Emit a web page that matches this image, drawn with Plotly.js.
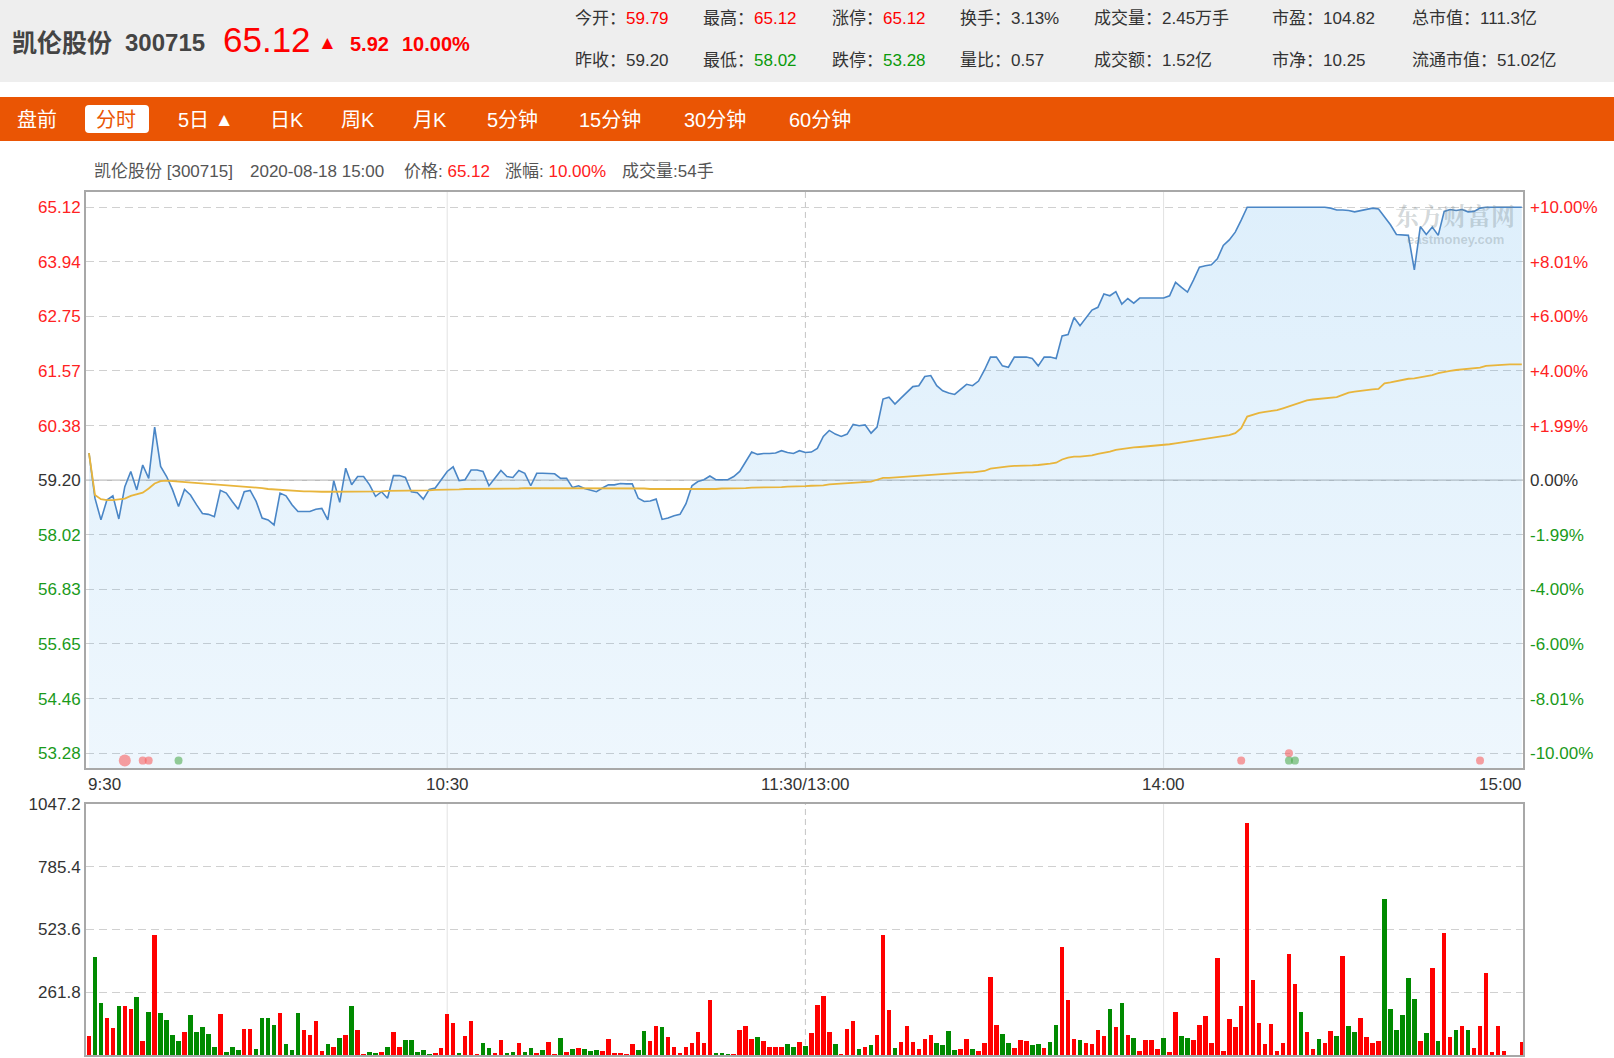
<!DOCTYPE html>
<html><head><meta charset="utf-8">
<script src="https://cdn.plot.ly/plotly-3.0.1.min.js"></script>
<style>
*{box-sizing:border-box}
html,body{margin:0;padding:0;background:#fff;width:1614px;height:1058px;overflow:hidden;font-family:Arial,"Liberation Sans","Noto Sans CJK SC",sans-serif;}
#chart{position:absolute;left:0;top:0;width:1614px;height:1058px;}
.abs{position:absolute;white-space:nowrap}
#hdr{position:absolute;left:0;top:0;width:1614px;height:82px;background:#eeeeee;}
#bar{position:absolute;left:0;top:97px;width:1614px;height:44px;background:#ea5504;}
</style></head><body>
<div id="chart"></div>
<div id="hdr"></div>
<div id="bar"></div>
<div id="info"></div>
<script>
// ---------------- data ----------------
const stockName = '凯伦股份';
const stockCode = '300715';
const lastPrice = '65.12';
const change = '5.92';
const changePct = '10.00%';
const prevClose = 59.20;

const statLabels = [['今开','最高','涨停','换手','成交量','市盈','总市值'],
                    ['昨收','最低','跌停','量比','成交额','市净','流通市值']];
const statValues = [['59.79','65.12','65.12','3.13%','2.45万手','104.82','111.3亿'],
                    ['59.20','58.02','53.28','0.57','1.52亿','10.25','51.02亿']];
const statDir = [['u','u','u','','','',''],['','d','d','','','','']];

const tabs = ['盘前','分时','5日 ▲','日K','周K','月K','5分钟','15分钟','30分钟','60分钟'];
const activeTab = '分时';

const infoDate = '2020-08-18 15:00';
const infoVolume = '54手';

const timeTickPos = [0, 60, 120, 180, 240];
const timeTickLabels = ['9:30','10:30','11:30/13:00','14:00','15:00'];

const priceTicks = [65.12, 63.94, 62.75, 61.57, 60.38, 59.20, 58.02, 56.83, 55.65, 54.46, 53.28];
const pctTicks = ['+10.00%','+8.01%','+6.00%','+4.00%','+1.99%','0.00%','-1.99%','-4.00%','-6.00%','-8.01%','-10.00%'];
const volTicks = [0, 261.8, 523.6, 785.4, 1047.2];
const volTickLabels = ['0','261.8','523.6','785.4','1047.2'];

const price = [
59.79,58.81,58.34,58.77,58.86,58.36,59.06,59.39,58.99,59.53,
59.24,60.35,59.50,59.28,58.99,58.63,59.00,58.88,58.67,58.48,
58.46,58.41,58.98,58.92,58.74,58.57,58.95,58.98,58.74,58.38,
58.34,58.23,58.92,58.86,58.67,58.52,58.52,58.52,58.57,58.59,
58.34,59.19,58.72,59.46,59.10,59.28,59.28,59.10,58.85,58.95,
58.81,59.30,59.30,59.26,58.95,58.93,58.79,59.00,59.03,59.22,
59.39,59.49,59.19,59.21,59.42,59.42,59.39,59.08,59.24,59.41,
59.28,59.26,59.41,59.35,59.08,59.35,59.35,59.34,59.34,59.24,
59.24,59.04,59.08,59.02,58.99,58.95,59.03,59.10,59.10,59.13,
59.12,59.12,58.81,58.74,58.75,58.79,58.35,58.38,58.43,58.46,
58.69,59.08,59.17,59.21,59.29,59.21,59.21,59.21,59.28,59.39,
59.60,59.81,59.76,59.78,59.78,59.79,59.84,59.80,59.78,59.84,
59.80,59.81,59.89,60.15,60.28,60.20,60.15,60.20,60.41,60.38,
60.40,60.22,60.35,60.96,61.00,60.85,60.98,61.10,61.23,61.25,
61.45,61.47,61.25,61.14,61.09,61.06,61.17,61.28,61.25,61.35,
61.59,61.87,61.87,61.68,61.65,61.87,61.87,61.87,61.84,61.68,
61.87,61.87,61.84,62.33,62.36,62.73,62.55,62.71,62.89,62.95,
63.24,63.20,63.29,63.02,63.14,63.04,63.15,63.15,63.15,63.15,
63.15,63.20,63.49,63.38,63.28,63.54,63.82,63.85,63.87,64.00,
64.29,64.41,64.58,64.84,65.12,65.12,65.12,65.12,65.12,65.12,
65.12,65.12,65.12,65.12,65.12,65.12,65.12,65.12,65.10,65.06,
65.06,65.05,65.02,65.05,65.08,65.10,65.08,64.92,64.74,64.53,
64.52,64.51,63.76,64.70,64.53,64.69,64.51,65.03,65.07,65.05,
65.07,65.02,65.03,65.10,65.12,65.12,65.12,65.12,65.12,65.12,
65.12];

const avgPrice = [
59.79,58.88,58.79,58.77,58.77,58.78,58.80,58.86,58.89,58.93,
59.02,59.13,59.18,59.19,59.18,59.17,59.17,59.16,59.15,59.14,
59.13,59.12,59.11,59.10,59.09,59.08,59.07,59.06,59.04,59.03,
59.01,59.00,58.99,58.98,58.97,58.97,58.96,58.96,58.95,58.95,
58.95,58.95,58.95,58.95,58.95,58.95,58.96,58.96,58.96,58.96,
58.97,58.97,58.97,58.97,58.98,58.98,58.98,58.98,58.99,58.99,
59.00,59.00,59.00,59.01,59.01,59.01,59.01,59.02,59.02,59.02,
59.02,59.02,59.02,59.03,59.03,59.03,59.03,59.03,59.03,59.03,
59.03,59.03,59.03,59.03,59.03,59.03,59.03,59.03,59.03,59.03,
59.03,59.02,59.02,59.02,59.01,59.01,59.01,59.00,59.00,59.00,
59.00,59.00,59.01,59.01,59.01,59.01,59.02,59.02,59.02,59.03,
59.03,59.04,59.04,59.04,59.05,59.05,59.05,59.06,59.06,59.07,
59.07,59.08,59.08,59.09,59.11,59.12,59.13,59.13,59.14,59.15,
59.16,59.17,59.21,59.25,59.25,59.26,59.27,59.28,59.29,59.30,
59.31,59.32,59.33,59.33,59.34,59.35,59.36,59.37,59.37,59.38,
59.40,59.45,59.47,59.48,59.50,59.51,59.51,59.52,59.52,59.53,
59.54,59.56,59.58,59.65,59.69,59.71,59.71,59.72,59.74,59.77,
59.79,59.82,59.86,59.88,59.90,59.91,59.92,59.93,59.95,59.96,
59.97,59.98,60.00,60.02,60.04,60.06,60.08,60.10,60.12,60.14,
60.16,60.18,60.22,60.33,60.58,60.62,60.66,60.68,60.70,60.72,
60.76,60.80,60.85,60.89,60.93,60.95,60.96,60.97,60.99,61.00,
61.05,61.10,61.12,61.14,61.15,61.17,61.18,61.30,61.32,61.35,
61.37,61.40,61.41,61.43,61.46,61.48,61.52,61.55,61.57,61.59,
61.60,61.61,61.62,61.64,61.68,61.69,61.70,61.70,61.71,61.71,
61.71];

const volume = [
81,410,219,154,113,205,205,194,243,57,
181,502,174,146,85,59,95,166,95,117,
89,35,170,14,33,21,109,109,24,153,
156,125,174,47,21,174,103,83,142,17,
45,33,71,82,205,103,3,14,7,11,
35,96,35,64,64,14,21,3,7,28,
170,134,7,81,140,3,52,28,7,64,
7,14,50,14,28,7,21,54,3,71,
11,24,28,24,16,21,16,66,7,7,
3,45,21,100,57,120,117,75,33,7,
35,52,96,52,231,7,7,3,3,103,
120,66,74,59,33,35,35,47,35,54,
38,92,209,245,96,47,3,109,142,25,
33,40,85,500,187,28,54,120,55,24,
66,83,51,41,99,21,24,66,27,18,
50,324,125,89,50,28,64,57,41,47,
31,54,125,449,231,66,61,52,47,103,
81,191,117,219,83,71,18,61,64,24,
71,11,180,78,69,64,127,163,50,403,
17,149,116,205,969,314,132,47,130,17,
50,422,297,180,98,27,68,50,102,81,
413,120,96,154,75,50,57,651,194,103,
168,321,233,57,92,364,59,509,75,106,
123,103,31,123,344,14,123,18,2,2,
54];

// u = up minute (red bar), d = down minute (green bar)
const volDir = [
'u','d','d','u','u','d','u','u','d','u',
'd','u','d','d','d','d','u','d','d','d',
'd','d','u','d','d','d','u','u','d','d',
'd','d','u','d','d','d','u','u','u','u',
'd','u','d','u','d','u','u','d','d','u',
'd','u','u','d','d','d','d','d','u','u',
'u','u','d','u','u','u','d','d','u','u',
'd','d','u','d','d','u','d','u','u','d',
'u','d','u','d','d','d','u','u','u','u',
'u','u','d','d','u','u','d','u','u','u',
'u','u','u','u','u','d','d','d','u','u',
'u','u','d','u','u','u','u','d','d','u',
'd','u','u','u','u','d','u','u','u','d',
'u','d','u','u','u','d','u','u','u','u',
'u','u','d','d','d','d','u','u','d','u',
'u','u','u','d','d','u','u','u','d','d',
'u','d','d','u','u','u','d','u','u','u',
'u','d','u','d','u','d','u','u','u','u',
'd','u','u','d','d','u','u','u','u','u',
'u','u','u','u','u','u','u','u','u','u',
'u','u','u','d','u','u','d','u','u','d',
'u','d','d','u','u','u','u','d','d','d',
'd','d','d','u','d','u','d','u','u','d',
'u','d','u','u','u','u','u','u','u','u',
'u'];

// big-order markers along the bottom of the price panel
const dotMinute = [6, 9, 10, 15, 193, 201, 201, 202, 233];
const dotPrice  = [53.12, 53.12, 53.12, 53.12, 53.12, 53.28, 53.12, 53.12, 53.12];
const dotSide   = ['b','b','b','s','b','b','s','s','b'];
const dotLarge  = [1,0,0,0,0,0,0,0,0];

// ---------------- header (HTML) ----------------
const RED = '#ff0000', GREEN = '#0a9a0a';
function el(parent, txt, css){ const d=document.createElement('div'); d.className='abs'; d.innerHTML=txt; Object.assign(d.style, css); parent.appendChild(d); return d; }
const hdr = document.getElementById('hdr');
function line(parent, txt, left, cy, size, color, weight){
  const h = Math.round(size*1.4);
  return el(parent, txt, {left:left+'px', top:(cy-h/2)+'px', height:h+'px', lineHeight:h+'px', fontSize:size+'px', color:color, fontWeight:weight||'normal'});
}
line(hdr, stockName, 12, 43, 25, '#444', 'bold');
line(hdr, stockCode, 125, 43, 24, '#444', 'bold');
line(hdr, lastPrice, 223, 39, 35, RED);
line(hdr, '▲', 318, 42, 19, RED);
line(hdr, change, 350, 44, 20, RED, 'bold');
line(hdr, changePct, 402, 44, 20, RED, 'bold');
const statX = [575, 703, 832, 960, 1094, 1272, 1412];
const statY = [19, 61];
for (let r=0;r<2;r++) for (let c=0;c<7;c++){
  const col = statDir[r][c]==='u'?RED:(statDir[r][c]==='d'?GREEN:'#333');
  line(hdr, statLabels[r][c]+'：<span style="color:'+col+'">'+statValues[r][c]+'</span>', statX[c], statY[r], 17, '#333');
}
const bar = document.getElementById('bar');
const tabX = [17, 96, 178, 270, 341, 413, 487, 579, 684, 789];
tabs.forEach((t,i)=>{
  if (t===activeTab){
    el(bar, '', {left:'85px', top:'8px', width:'64px', height:'28px', background:'#fff', borderRadius:'4px'});
    line(bar, t, tabX[i], 23, 20, '#ea5504');
  } else {
    line(bar, t.replace('▲','<span style="font-size:19px;position:relative;top:-1px">▲</span>'), tabX[i], 23, 20, '#fff');
  }
});
const info = document.getElementById('info');
const infoParts = [
  [stockName+' ['+stockCode+']', 94],
  [infoDate, 250],
  ['价格: <span style="color:#ff2020">'+lastPrice+'</span>', 404],
  ['涨幅: <span style="color:#ff2020">'+changePct+'</span>', 505],
  ['成交量:'+infoVolume, 622]
];
infoParts.forEach(p=>line(info, p[0], p[1], 172, 17, '#555'));

// ---------------- chart (Plotly) ----------------
const minute = price.map((_, i) => i);
const xRange = [-0.5, 240.2];
const pRange = [52.96, 65.45];
const FONT = 'Arial, "Liberation Sans", sans-serif';
const AXRED = '#f22', AXGREEN = '#1a9a1a', AXGRAY = '#333';
function tickColor(v){ return v>prevClose+1e-9?AXRED:(v<prevClose-1e-9?AXGREEN:AXGRAY); }
const leftText = priceTicks.map(v=>'<span style="color:'+tickColor(v)+'">'+v.toFixed(2)+'</span>');
const rightText = priceTicks.map((v,i)=>'<span style="color:'+tickColor(v)+'">'+pctTicks[i]+'</span>');

const traces = [
  { x:minute, y:price, type:'scatter', mode:'lines', xaxis:'x', yaxis:'y',
    line:{color:'#4a86c6', width:1.6}, fill:'tozeroy',
    fillcolor:'rgba(70,160,230,0.14)',
    fillgradient:{type:'vertical', start:pRange[0], stop:pRange[1],
      colorscale:[[0,'rgba(70,165,235,0.09)'],[1,'rgba(70,165,235,0.18)']]},
    hoverinfo:'skip' },
  { x:minute, y:avgPrice, type:'scatter', mode:'lines', xaxis:'x', yaxis:'y',
    line:{color:'#e8b53c', width:1.8}, hoverinfo:'skip' },
  { x:[minute[0]], y:[prevClose], type:'scatter', mode:'markers', xaxis:'x', yaxis:'y2',
    marker:{opacity:0, size:1}, hoverinfo:'skip' },
  { x:dotMinute, y:dotPrice, type:'scatter', mode:'markers', xaxis:'x', yaxis:'y', cliponaxis:false,
    marker:{color:dotSide.map(s=>s==='b'?'rgba(248,96,96,0.85)':'rgba(70,165,70,0.8)'),
            size:dotLarge.map(b=>b?12:8), line:{width:0}}, hoverinfo:'skip' },
  { x:minute, y:volume, type:'bar', xaxis:'x2', yaxis:'y3', width:0.76,
    marker:{color:volDir.map(d=>d==='u'?'#ff0000':'#008a00'), line:{width:0}}, hoverinfo:'skip' }
];

const frame = {showline:true, mirror:true, linecolor:'#a8a8a8', linewidth:2, zeroline:false, ticks:''};
const shapes = [];
[[1,'solid','#e2e2e2'],[2,'6px,4px','#c4c4c4'],[3,'solid','#e2e2e2']].forEach(([k,dash,col])=>{
  shapes.push({type:'line', layer:'below', xref:'x', yref:'paper', x0:timeTickPos[k], x1:timeTickPos[k], y0:0.3326, y1:1, line:{color:col, width:1, dash:dash}});
  shapes.push({type:'line', layer:'below', xref:'x', yref:'paper', x0:timeTickPos[k], x1:timeTickPos[k], y0:0, y1:0.2908, line:{color:col, width:1, dash:dash}});
});
shapes.push({type:'line', layer:'below', xref:'paper', yref:'y', x0:0, x1:1, y0:prevClose, y1:prevClose, line:{color:'#bcbcbc', width:1.5}});

const annotations = timeTickPos.map((p,i)=>({
  x:p, xref:'x', y:0.3326, yref:'paper', yanchor:'middle', yshift:-17,
  xanchor: i===0?'left':(i===timeTickPos.length-1?'right':'center'), xshift: i===0?-3:(i===timeTickPos.length-1?2:0),
  text:timeTickLabels[i], showarrow:false, font:{family:FONT, size:17, color:'#333'}
}));
annotations.push({x:0.953, xref:'paper', y:0.9745, yref:'paper', xanchor:'center', yanchor:'middle', borderpad:0, text:'<b>东方财富网</b>', showarrow:false,
  font:{family:'"Noto Serif CJK SC","Noto Sans CJK SC", serif', size:24, color:'rgba(120,135,140,0.33)'}});
annotations.push({x:0.953, xref:'paper', y:0.9445, yref:'paper', xanchor:'center', yanchor:'middle', borderpad:0, text:'<b>eastmoney.com</b>', showarrow:false,
  font:{family:FONT, size:13, color:'rgba(120,135,140,0.33)'}});

const layout = {
  width:1614, height:1058,
  margin:{l:86, r:91, t:192, b:3, pad:0},
  paper_bgcolor:'#ffffff', plot_bgcolor:'#ffffff',
  showlegend:false, font:{family:FONT, size:17, color:'#333'},
  xaxis:Object.assign({domain:[0,1], range:xRange, anchor:'y', showgrid:false, showticklabels:false}, frame),
  yaxis:Object.assign({domain:[0.3326,1], range:pRange, anchor:'x', tickvals:priceTicks, ticktext:leftText,
    showgrid:true, gridcolor:'#d0d0d0', griddash:'8px,5px', gridwidth:1, ticklabelstandoff:0, tickfont:{size:17}}, frame),
  yaxis2:{overlaying:'y', anchor:'x', side:'right', range:pRange, tickvals:priceTicks, ticktext:rightText,
    showgrid:false, zeroline:false, showline:false, ticks:'', ticklabelstandoff:6, tickfont:{size:17}},
  xaxis2:Object.assign({domain:[0,1], range:xRange, anchor:'y3', showgrid:false, showticklabels:false}, frame),
  yaxis3:Object.assign({domain:[0,0.2908], range:[0,1047.2], anchor:'x2', tickvals:volTicks, ticktext:volTickLabels,
    showgrid:true, gridcolor:'#d0d0d0', griddash:'8px,5px', gridwidth:1, ticklabelstandoff:0, tickfont:{size:17, color:'#333'}}, frame),
  shapes:shapes, annotations:annotations, bargap:0
};
Plotly.newPlot('chart', traces, layout, {displayModeBar:false, staticPlot:true});
</script>
</body></html>
